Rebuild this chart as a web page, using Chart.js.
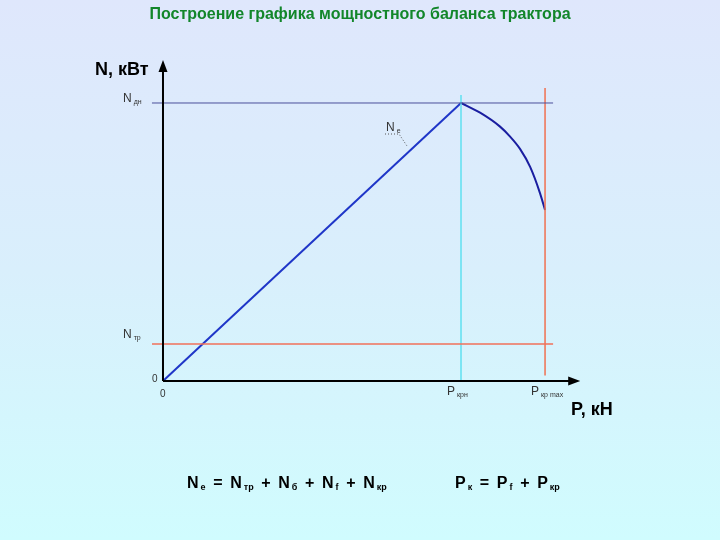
<!DOCTYPE html>
<html>
<head>
<meta charset="utf-8">
<script src="https://cdn.jsdelivr.net/npm/chart.js@4"></script>
<style>
  html, body { margin: 0; padding: 0; }
  body {
    width: 720px; height: 540px; overflow: hidden;
    background: linear-gradient(to bottom, #dfe7fc 0%, #d9effc 50%, #d0fcfe 100%);
  }
  #wrap { position: relative; width: 720px; height: 540px; }
</style>
</head>
<body>
<div id="wrap"><canvas id="grafico"></canvas></div>
<script>
// Данные (P в условных единицах, N в % от Nдн)
const pLine = [0, 100];
const nLine = [0, 100];
const pCurve = [100, 106.4, 113.1, 116.4, 119.8, 123.2, 126.5, 128.2];
const nCurve = [100, 96.5, 91.5, 88.0, 83.5, 77.0, 67.6, 61.5];
const nDn = 100;
const nTr = 13.3;
const pNom = 100;
const pMax = 128.2;
const lineFrom = -3.7;
const lineTo = 130.9;

function pts(xs, ys) {
  return xs.map((x, i) => ({ x: x, y: ys[i] }));
}

// подписи с индексами
function subText(ctx, x, y, main, sub, size, bold, color) {
  ctx.save();
  ctx.fillStyle = color || '#000';
  ctx.textBaseline = 'alphabetic';
  ctx.textAlign = 'left';
  ctx.font = (bold ? 'bold ' : '') + size + 'px "Liberation Sans", Arial, sans-serif';
  ctx.fillText(main, x, y);
  const w = ctx.measureText(main).width;
  ctx.font = (bold ? 'bold ' : '') + Math.round(size * 0.55) + 'px "Liberation Sans", Arial, sans-serif';
  ctx.fillText(sub, x + w + 2, y + size * 0.15);
  const w2 = ctx.measureText(sub).width;
  ctx.restore();
  return x + w + 2 + w2;
}

function formula(ctx, x, y, parts, size) {
  let cx = x;
  parts.forEach(p => {
    if (p.length === 2) {
      cx = subText(ctx, cx, y, p[0], p[1], size, true, '#000');
    } else {
      ctx.save();
      ctx.font = 'bold ' + size + 'px "Liberation Sans", Arial, sans-serif';
      ctx.fillStyle = '#000';
      ctx.fillText(p[0], cx, y);
      cx += ctx.measureText(p[0]).width;
      ctx.restore();
    }
  });
}

const axesPlugin = {
  id: 'osi',
  afterDatasetsDraw(chart) {
    const ctx = chart.ctx;
    const xs = chart.scales.x, ys = chart.scales.y;
    const x0 = xs.getPixelForValue(0), y0 = ys.getPixelForValue(0);
    const xEnd = xs.getPixelForValue(140), yEnd = ys.getPixelForValue(115.5);
    ctx.save();
    ctx.strokeStyle = '#000';
    ctx.fillStyle = '#000';
    ctx.lineWidth = 2;
    ctx.beginPath();
    ctx.moveTo(x0, y0); ctx.lineTo(xEnd - 8, y0);
    ctx.moveTo(x0, y0); ctx.lineTo(x0, yEnd + 8);
    ctx.stroke();
    ctx.beginPath();
    ctx.moveTo(xEnd, y0); ctx.lineTo(xEnd - 12, y0 - 4.5); ctx.lineTo(xEnd - 12, y0 + 4.5); ctx.closePath();
    ctx.fill();
    ctx.beginPath();
    ctx.moveTo(x0, yEnd); ctx.lineTo(x0 - 4.5, yEnd + 12); ctx.lineTo(x0 + 4.5, yEnd + 12); ctx.closePath();
    ctx.fill();

    // выноска Ne
    ctx.setLineDash([1, 2]);
    ctx.lineWidth = 1;
    ctx.strokeStyle = '#555';
    ctx.beginPath();
    ctx.moveTo(385, 134); ctx.lineTo(399, 134); ctx.lineTo(407, 146);
    ctx.stroke();
    ctx.setLineDash([]);

    // тексты
    const f = '"Liberation Sans", Arial, sans-serif';
    ctx.textAlign = 'center';
    ctx.textBaseline = 'middle';
    ctx.font = 'bold 16px ' + f;
    ctx.fillStyle = '#12862a';
    ctx.fillText('Построение графика мощностного баланса трактора', 360, 15);

    ctx.fillStyle = '#000';
    ctx.textAlign = 'left';
    ctx.textBaseline = 'alphabetic';
    ctx.font = 'bold 18px ' + f;
    ctx.fillText('N, кВт', 95, 75);
    ctx.fillText('P, кН', 571, 415);

    subText(ctx, 123, 102, 'N', 'дн', 12, false, '#333');
    subText(ctx, 123, 338, 'N', 'тр', 12, false, '#333');
    subText(ctx, 386, 131, 'N', 'e', 12, false, '#333');
    subText(ctx, 447, 395, 'P', 'крн', 12, false, '#333');
    subText(ctx, 531, 395, 'P', 'кр max', 12, false, '#333');
    ctx.font = '10px ' + f;
    ctx.fillStyle = '#333';
    ctx.fillText('0', 152, 382);
    ctx.fillText('0', 160, 397);

    const eq = ' \u2009=\u2009 ', pl = ' \u2009+\u2009 ';
    formula(ctx, 187, 488, [['N', 'e'], [eq], ['N', 'тр'], [pl], ['N', 'б'], [pl], ['N', 'f'], [pl], ['N', 'кр']], 16);
    formula(ctx, 455, 488, [['P', 'к'], [eq], ['P', 'f'], [pl], ['P', 'кр']], 16);
    ctx.restore();
  }
};

new Chart(document.getElementById('grafico').getContext('2d'), {
  type: 'scatter',
  data: {
    datasets: [
      {
        label: 'Nдн',
        data: pts([lineFrom, lineTo], [nDn, nDn]),
        showLine: true, borderColor: '#4a4f9a', borderWidth: 1, pointRadius: 0
      },
      {
        label: 'Nтр',
        data: pts([lineFrom, lineTo], [nTr, nTr]),
        showLine: true, borderColor: '#f0705a', borderWidth: 1.5, pointRadius: 0
      },
      {
        label: 'Pном',
        data: pts([pNom, pNom], [0, 102.9]),
        showLine: true, borderColor: '#5fe0f0', borderWidth: 1.5, pointRadius: 0
      },
      {
        label: 'Pmax',
        data: pts([pMax, pMax], [2, 105.4]),
        showLine: true, borderColor: '#f07050', borderWidth: 1.5, pointRadius: 0
      },
      {
        label: 'Ne',
        data: pts(pLine, nLine),
        showLine: true, borderColor: '#1f36c8', borderWidth: 2, pointRadius: 0
      },
      {
        label: 'Ne кривая',
        data: pts(pCurve, nCurve),
        showLine: true, borderColor: '#1a1ea0', borderWidth: 2, pointRadius: 0,
        cubicInterpolationMode: 'monotone'
      }
    ]
  },
  options: {
    responsive: true,
    maintainAspectRatio: false,
    animation: false,
    layout: { padding: { left: 130, right: 120, top: 50, bottom: 140 } },
    scales: {
      x: { type: 'linear', min: -11.07, max: 146.64, display: false },
      y: { type: 'linear', min: -6.83, max: 119.06, display: false }
    },
    plugins: {
      legend: { display: false },
      tooltip: { enabled: false }
    }
  },
  plugins: [axesPlugin]
});
</script>
</body>
</html>
